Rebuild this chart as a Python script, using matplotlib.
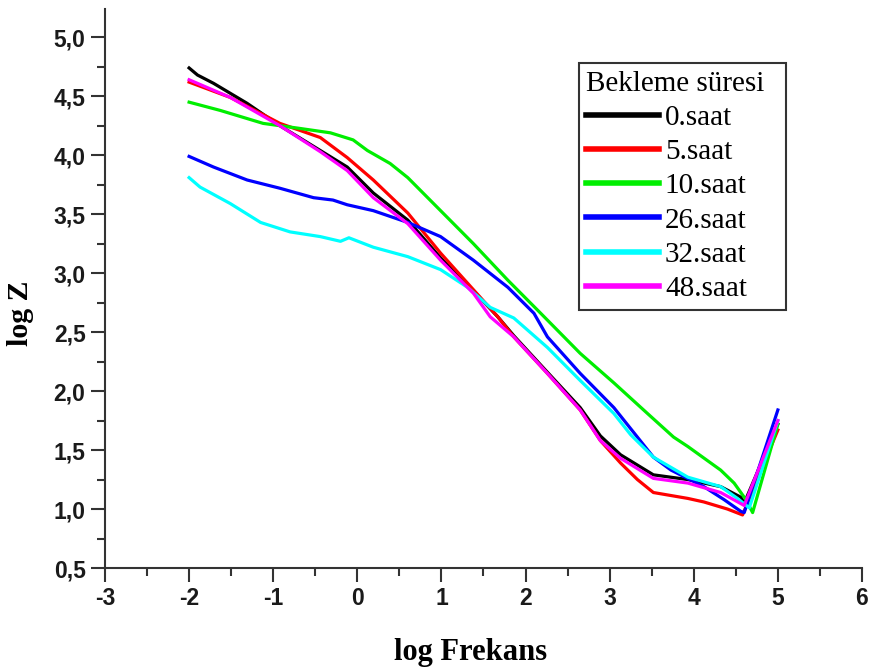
import numpy as np
import matplotlib
matplotlib.use("Agg")
import matplotlib.pyplot as plt
from matplotlib.ticker import MultipleLocator, FuncFormatter

# log Z vs log frekans, one curve per bekleme suresi
labels = ["0.saat", "5.saat", "10.saat", "26.saat", "32.saat", "48.saat"]
colors = ["#000000", "#ff0000", "#00ee00", "#0000ff", "#00ffff", "#ff00ff"]

x_0 = [-2, -1.9, -1.71, -1.31, -0.92, -0.44, -0.12, 0.19, 0.6, 0.99, 1.38, 1.67,
       1.86, 2.26, 2.65, 2.89, 3.13, 3.52, 3.93, 4.32, 4.56, 4.6, 5.0]
y_0 = [4.74, 4.68, 4.61, 4.44, 4.25, 4.04, 3.90, 3.68, 3.45, 3.13, 2.85, 2.63,
       2.47, 2.16, 1.86, 1.62, 1.46, 1.29, 1.25, 1.19, 1.10, 1.05, 1.72]

x_5 = [-2, -1.51, -0.92, -0.44, -0.12, 0.19, 0.6, 0.99, 1.38, 1.67, 1.86, 2.26,
       2.65, 2.89, 3.13, 3.33, 3.52, 3.93, 4.12, 4.4, 4.58, 5.0]
y_5 = [4.62, 4.49, 4.27, 4.15, 3.98, 3.79, 3.51, 3.17, 2.86, 2.63, 2.46, 2.15,
       1.84, 1.58, 1.39, 1.25, 1.14, 1.09, 1.06, 1.0, 0.95, 1.67]

x_10 = [-2, -1.63, -1.12, -0.71, -0.32, -0.05, 0.12, 0.39, 0.6, 0.99, 1.38, 1.79,
        2.18, 2.65, 3.05, 3.45, 3.76, 3.93, 4.32, 4.48, 4.62, 4.70, 5.0]
y_10 = [4.45, 4.38, 4.27, 4.23, 4.19, 4.13, 4.04, 3.93, 3.81, 3.53, 3.25, 2.94,
        2.66, 2.32, 2.07, 1.81, 1.61, 1.53, 1.33, 1.22, 1.08, 0.97, 1.72]

x_26 = [-2, -1.71, -1.31, -0.92, -0.52, -0.29, -0.12, 0.19, 0.6, 0.99, 1.38, 1.79,
        2.10, 2.26, 2.65, 3.05, 3.33, 3.52, 3.73, 4.12, 4.36, 4.56, 4.60, 5.0]
y_26 = [3.99, 3.90, 3.79, 3.72, 3.64, 3.62, 3.58, 3.53, 3.43, 3.31, 3.11, 2.88,
        2.66, 2.46, 2.15, 1.86, 1.61, 1.44, 1.33, 1.19, 1.08, 0.98, 0.97, 1.84]

x_32 = [-2, -1.87, -1.51, -1.15, -0.8, -0.44, -0.2, -0.1, 0.19, 0.6, 0.99, 1.31,
        1.58, 1.86, 2.26, 2.65, 3.05, 3.25, 3.52, 3.93, 4.32, 4.52, 4.66, 5.0]
y_32 = [3.81, 3.73, 3.59, 3.43, 3.35, 3.31, 3.27, 3.30, 3.22, 3.14, 3.03, 2.88,
        2.71, 2.62, 2.37, 2.09, 1.81, 1.63, 1.44, 1.27, 1.19, 1.09, 1.01, 1.75]

x_48 = [-2, -1.51, -0.92, -0.44, -0.12, 0.19, 0.6, 0.99, 1.38, 1.58, 1.86, 2.26,
        2.65, 2.89, 3.13, 3.52, 3.93, 4.32, 4.6, 5.0]
y_48 = [4.64, 4.49, 4.25, 4.03, 3.87, 3.64, 3.42, 3.11, 2.83, 2.63, 2.46, 2.15,
        1.84, 1.58, 1.43, 1.26, 1.22, 1.14, 1.03, 1.75]

xs = [x_0, x_5, x_10, x_26, x_32, x_48]
ys = [y_0, y_5, y_10, y_26, y_32, y_48]

fig = plt.figure(figsize=(8.72, 6.71), dpi=100)
ax = fig.add_axes([0.1204, 0.1535, 0.8681, 0.8331])

for x, y, c, lab in zip(xs, ys, colors, labels):
    ax.plot(x, y, color=c, lw=2.3, label=lab, solid_joinstyle="round")

ax.set_xlim(-3, 6)
ax.set_ylim(0.5, 5.24)

for s in ["top", "right"]:
    ax.spines[s].set_visible(False)
for s in ["left", "bottom"]:
    ax.spines[s].set_linewidth(1.5)
    ax.spines[s].set_color("#333333")

ax.xaxis.set_major_locator(MultipleLocator(1))
ax.xaxis.set_minor_locator(MultipleLocator(0.5))
ax.yaxis.set_major_locator(MultipleLocator(0.5))
ax.yaxis.set_minor_locator(MultipleLocator(0.25))
ax.yaxis.set_major_formatter(FuncFormatter(lambda v, p: f"{v:.1f}".replace(".", ",")))
ax.xaxis.set_major_formatter(FuncFormatter(lambda v, p: f"{v:g}"))

ax.tick_params(which="major", direction="out", length=10, width=1.5, color="#333333",
               labelsize=16.5, pad=4)
ax.tick_params(which="minor", direction="out", length=6, width=1.5, color="#333333")
for t in ax.get_xticklabels() + ax.get_yticklabels():
    t.set_fontfamily("Liberation Sans")
    t.set_fontweight("bold")
    t.set_color("#1a1a1a")

ax.set_xlabel("log Frekans", fontfamily="Liberation Serif", fontweight="bold", fontsize=22)
ax.set_ylabel("log Z", fontfamily="Liberation Serif", fontweight="bold", fontsize=21.5)
ax.xaxis.set_label_coords(0.483, -0.125)
ax.yaxis.set_label_coords(-0.094, 0.455)

leg = ax.legend(title="Bekleme süresi  ", loc="upper left", bbox_to_anchor=(0.626, 0.903),
                prop={"family": "Liberation Serif", "size": 21},
                title_fontproperties={"family": "Liberation Serif", "size": 21},
                frameon=True, fancybox=False, shadow=False, framealpha=1,
                handlelength=2.5, handletextpad=0.2, labelspacing=0.27,
                borderpad=0.25, borderaxespad=0)
leg._legend_box.align = "left"
leg.get_frame().set_edgecolor("#333333")
leg.get_frame().set_linewidth(1.5)
for h in leg.get_lines():
    h.set_linewidth(4)

fig.savefig("out.png", dpi=100)
